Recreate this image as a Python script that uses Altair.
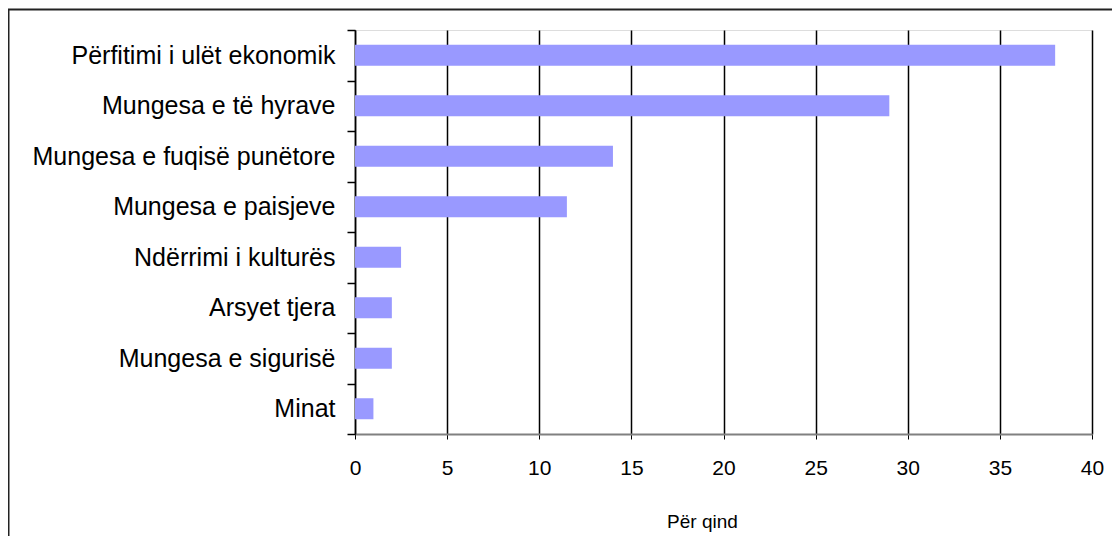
import altair as alt
import pandas as pd

categories = [
    "Përfitimi i ulët ekonomik",
    "Mungesa e të hyrave",
    "Mungesa e fuqisë punëtore",
    "Mungesa e paisjeve",
    "Ndërrimi i kulturës",
    "Arsyet tjera",
    "Mungesa e sigurisë",
    "Minat",
]
values = [38, 29, 14, 11.5, 2.5, 2, 2, 1]
x_ticks = [0, 5, 10, 15, 20, 25, 30, 35, 40]

df = pd.DataFrame({"cat": categories, "val": values})
FONT = "Liberation Sans"

bars = alt.Chart(df).mark_bar(size=21, color="#9999FF").encode(
    x=alt.X(
        "val:Q",
        scale=alt.Scale(domain=[0, 40], nice=False),
        axis=alt.Axis(
            values=x_ticks,
            title="Për qind",
            titleFont=FONT,
            titleFontSize=19,
            titleFontWeight="normal",
            titleColor="black",
            titleBaseline="alphabetic",
            titleAnchor="start",
            titleAlign="center",
            titleX=347,
            titleY=93,
            labelFont=FONT,
            labelFontSize=21,
            labelFlush=False,
            labelColor="black",
            labelPadding=18,
            tickSize=5,
            tickColor="black",
            tickWidth=1,
            domainColor="#808080",
            domainWidth=2,
            grid=True,
            gridColor="black",
            gridWidth=1.5,
        ),
    ),
    y=alt.Y(
        "cat:N",
        sort=categories,
        scale=alt.Scale(paddingInner=0, paddingOuter=0),
        axis=alt.Axis(
            title=None,
            labelFont=FONT,
            labelFontSize=25,
            labelLimit=0,
            labelColor="black",
            labelPadding=12,
            tickBand="extent",
            tickSize=8,
            tickColor="black",
            tickWidth=1.5,
            domainColor="black",
            domainWidth=1.5,
            grid=False,
        ),
    ),
)

frame = alt.Chart(pd.DataFrame({"f": [0]})).mark_rect(
    fill=None, stroke="#222222", strokeWidth=2, clip=False
).encode(
    x=alt.value(-346.5),
    x2=alt.value(900),
    y=alt.value(-20.5),
    y2=alt.value(700),
)

chart = alt.layer(frame, bars).properties(
    width=737,
    height=404,
    autosize=alt.AutoSizeParams(type="none"),
    padding={"left": 347, "top": 22, "right": 20, "bottom": 102},
).configure_view(stroke=None).configure(background="white")

chart.save("out.html", embed_options={"renderer": "svg", "actions": False})
